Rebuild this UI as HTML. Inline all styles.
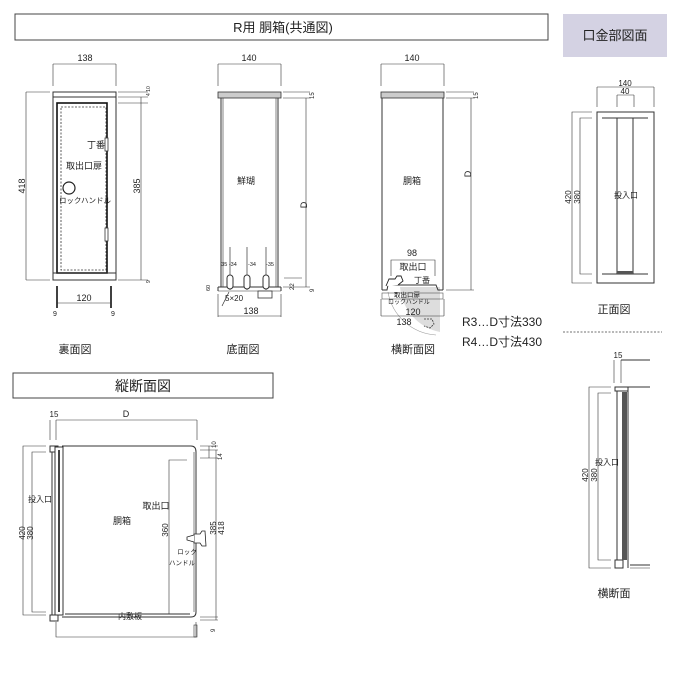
<!DOCTYPE html>
<html><head><meta charset="utf-8">
<style>
html,body{margin:0;padding:0;background:#fff;}
svg{display:block;}
text{font-family:"Liberation Sans","Noto Sans CJK JP",sans-serif;fill:#222;}
.l{stroke:#333;stroke-width:1;fill:none;}
.t{stroke:#333;stroke-width:0.6;fill:none;}
.k{stroke:#111;stroke-width:1.6;fill:none;}
</style></head><body>
<svg width="700" height="700" viewBox="0 0 700 700" xmlns="http://www.w3.org/2000/svg">
<!-- headers -->
<rect x="15" y="14" width="533" height="26" fill="#fff" stroke="#444" stroke-width="1"/>
<text x="283" y="32" font-size="13" text-anchor="middle">R用 胴箱(共通図)</text>
<rect x="563" y="14" width="104" height="43" fill="#d4d2e3"/>
<text x="615" y="40" font-size="13" text-anchor="middle">口金部図面</text>

<!-- View1 裏面図 -->
<g>
<line class="t" x1="53" y1="64" x2="116" y2="64"/><line class="t" x1="53" y1="64" x2="53" y2="86"/><line class="t" x1="116" y1="64" x2="116" y2="86"/>
<text x="85" y="61" font-size="9" text-anchor="middle">138</text>
<rect class="l" x="53" y="92" width="63" height="188"/>
<line class="l" x1="53" y1="97" x2="116" y2="97"/>
<rect class="k" x="57" y="103" width="50" height="170"/>
<rect x="61" y="107" width="45" height="163" fill="none" stroke="#333" stroke-width="0.8" stroke-dasharray="2,1.5"/>
<line class="l" x1="53" y1="273" x2="116" y2="273"/>
<rect x="105" y="138" width="3" height="13" fill="#fff" stroke="#333" stroke-width="0.8"/>
<rect x="105" y="228" width="3" height="13" fill="#fff" stroke="#333" stroke-width="0.8"/>
<circle cx="69" cy="188" r="6" fill="#fff" stroke="#222" stroke-width="1.2"/>
<text x="96" y="148" font-size="9" text-anchor="middle">丁番</text>
<text x="84" y="169" font-size="9" text-anchor="middle">取出口扉</text>
<text x="85" y="203" font-size="7.5" text-anchor="middle">ロックハンドル</text>
<line class="t" x1="26" y1="92" x2="26" y2="280"/><line class="t" x1="26" y1="92" x2="50" y2="92"/><line class="t" x1="26" y1="280" x2="50" y2="280"/>
<text x="22" y="186" font-size="9" text-anchor="middle" transform="rotate(-90 22 186)" dy="3">418</text>
<line class="t" x1="118" y1="92" x2="148" y2="92"/><line class="t" x1="118" y1="97" x2="148" y2="97"/><line class="t" x1="118" y1="103" x2="148" y2="103"/><line class="t" x1="118" y1="280" x2="148" y2="280"/>
<line class="t" x1="141" y1="97" x2="141" y2="280"/>
<text x="137" y="186" font-size="9" text-anchor="middle" transform="rotate(-90 137 186)" dy="3">385</text>
<text x="150" y="96" font-size="5" transform="rotate(-90 150 96)">4 10</text>
<text x="150" y="283" font-size="5" transform="rotate(-90 150 283)">9</text>
<line class="k" x1="57" y1="286" x2="57" y2="308"/><line class="k" x1="111" y1="286" x2="111" y2="308"/>
<line class="t" x1="57" y1="303" x2="111" y2="303"/>
<text x="84" y="301" font-size="9" text-anchor="middle">120</text>
<text x="55" y="316" font-size="7" text-anchor="middle">9</text><text x="113" y="316" font-size="7" text-anchor="middle">9</text>
<text x="75" y="353" font-size="11" text-anchor="middle">裏面図</text>
</g>

<!-- View2 底面図 -->
<g>
<line class="t" x1="218" y1="64" x2="281" y2="64"/><line class="t" x1="218" y1="64" x2="218" y2="86"/><line class="t" x1="281" y1="64" x2="281" y2="86"/>
<text x="249" y="61" font-size="9" text-anchor="middle">140</text>
<rect x="218" y="92" width="63" height="6" fill="#ccc" stroke="#333" stroke-width="0.8"/>
<line class="l" x1="221" y1="98" x2="221" y2="287"/><line class="l" x1="278" y1="98" x2="278" y2="287"/>
<line class="t" x1="223" y1="98" x2="223" y2="287"/><line class="t" x1="276" y1="98" x2="276" y2="287"/>
<line class="l" x1="218" y1="287" x2="281" y2="287"/><line class="l" x1="218" y1="287" x2="218" y2="291"/><line class="l" x1="281" y1="287" x2="281" y2="291"/><line class="t" x1="218" y1="291" x2="281" y2="291"/>
<rect x="258" y="291" width="14" height="7" fill="#fff" stroke="#333" stroke-width="0.8"/>
<text x="246" y="184" font-size="9" text-anchor="middle">鮮瑚</text>
<g stroke="#333" stroke-width="0.7" fill="none">
<line x1="230" y1="247" x2="230" y2="290"/><line x1="247" y1="247" x2="247" y2="290"/><line x1="266" y1="247" x2="266" y2="290"/>
<rect x="227" y="275" width="6" height="14" rx="3" fill="#fff" stroke-width="1"/>
<rect x="244" y="275" width="6" height="14" rx="3" fill="#fff" stroke-width="1"/>
<rect x="263" y="275" width="6" height="14" rx="3" fill="#fff" stroke-width="1"/>
<line x1="229" y1="292" x2="222" y2="306"/>
</g>
<text x="229" y="266" font-size="5.5" text-anchor="middle">35 -34</text>
<text x="252" y="266" font-size="5.5" text-anchor="middle">-34</text>
<text x="270" y="266" font-size="5.5" text-anchor="middle">-35</text>
<text x="225" y="301" font-size="8">5×20</text>
<text x="210" y="291" font-size="5.5" transform="rotate(-90 210 291)">60</text>
<line class="t" x1="284" y1="278" x2="302" y2="278"/>
<text x="294" y="290" font-size="6" transform="rotate(-90 294 290)">22</text>
<line class="t" x1="283" y1="92" x2="310" y2="92"/><line class="t" x1="283" y1="98" x2="310" y2="98"/><line class="t" x1="283" y1="287" x2="310" y2="287"/>
<line class="t" x1="306" y1="98" x2="306" y2="287"/>
<text x="304" y="205" font-size="9" text-anchor="middle" transform="rotate(-90 304 205)" dy="3">D</text>
<text x="314" y="99" font-size="6" transform="rotate(-90 314 99)">15</text>
<text x="314" y="292" font-size="6" transform="rotate(-90 314 292)">9</text>
<line class="t" x1="218" y1="294" x2="218" y2="317"/><line class="t" x1="281" y1="294" x2="281" y2="317"/><line class="t" x1="218" y1="316" x2="281" y2="316"/>
<text x="251" y="314" font-size="9" text-anchor="middle">138</text>
<text x="243" y="353" font-size="11" text-anchor="middle">底面図</text>
</g>

<!-- View3 横断面図 -->
<g>
<line class="t" x1="381" y1="64" x2="444" y2="64"/><line class="t" x1="381" y1="64" x2="381" y2="86"/><line class="t" x1="444" y1="64" x2="444" y2="86"/>
<text x="412" y="61" font-size="9" text-anchor="middle">140</text>
<path d="M400 287 A50 50 0 0 0 440 332 L440 287 Z" fill="#ddd"/>
<path d="M388 292 A52 52 0 0 0 436 335" fill="none" stroke="#999" stroke-width="0.6"/>
<rect x="381" y="92" width="63" height="6" fill="#ccc" stroke="#333" stroke-width="0.8"/>
<line class="l" x1="382" y1="98" x2="382" y2="290"/><line class="l" x1="443" y1="98" x2="443" y2="290"/>
<path class="l" d="M382 290 L387 290 L388 285 L436 285 L438 290 L443 290"/>
<rect x="382" y="293" width="61" height="6" fill="none" stroke="#555" stroke-width="0.6"/>
<line class="t" x1="381" y1="299" x2="381" y2="316"/><line class="t" x1="444" y1="299" x2="444" y2="316"/><line class="t" x1="381" y1="316" x2="444" y2="316"/>
<text x="412" y="256" font-size="9" text-anchor="middle">98</text>
<path class="t" d="M391 276 L391 260 L435 260 L435 276"/>
<text x="413" y="270" font-size="9" text-anchor="middle">取出口</text>
<text x="422" y="283" font-size="8" text-anchor="middle">丁番</text>
<path d="M386 286 L389 279 L395 279 L397 276 L401 276 L403 281 L398 285" fill="#fff" stroke="#222" stroke-width="0.9"/>
<text x="394" y="297" font-size="6.5">取出口扉</text>
<text x="388" y="304" font-size="6">ロックハンドル</text>
<text x="413" y="315" font-size="9" text-anchor="middle">120</text>
<text x="404" y="325" font-size="9" text-anchor="middle">138</text>
<path d="M424 319 L432 319 L434 324 L430 328 L424 326" fill="none" stroke="#333" stroke-width="0.8" stroke-dasharray="2,1"/>
<line class="t" x1="446" y1="92" x2="474" y2="92"/><line class="t" x1="446" y1="98" x2="474" y2="98"/><line class="t" x1="446" y1="290" x2="474" y2="290"/>
<line class="t" x1="471" y1="98" x2="471" y2="290"/>
<text x="468" y="174" font-size="9" text-anchor="middle" transform="rotate(-90 468 174)" dy="3">D</text>
<text x="478" y="99" font-size="6" transform="rotate(-90 478 99)">15</text>
<text x="412" y="184" font-size="9" text-anchor="middle">胴箱</text>
<text x="462" y="326" font-size="12">R3…D寸法330</text>
<text x="462" y="346" font-size="12">R4…D寸法430</text>
<text x="413" y="353" font-size="11" text-anchor="middle">横断面図</text>
</g>

<!-- 正面図 -->
<g>
<line class="t" x1="597" y1="87" x2="654" y2="87"/><line class="t" x1="597" y1="87" x2="597" y2="107"/><line class="t" x1="654" y1="87" x2="654" y2="107"/>
<line class="t" x1="617" y1="95" x2="634" y2="95"/><line class="t" x1="617" y1="95" x2="617" y2="107"/><line class="t" x1="634" y1="95" x2="634" y2="107"/>
<text x="625" y="86" font-size="8" text-anchor="middle">140</text>
<text x="625" y="94" font-size="8" text-anchor="middle">40</text>
<rect class="l" x="597" y="112" width="57" height="171"/>
<line class="l" x1="602" y1="118" x2="648" y2="118"/><line class="l" x1="602" y1="274" x2="648" y2="274"/>
<line class="l" x1="617" y1="118" x2="617" y2="274"/><line class="l" x1="633" y1="118" x2="633" y2="274"/>
<rect x="617" y="271" width="16" height="3" fill="#555"/>
<path class="t" d="M592 112 L572 112 L572 283 L592 283"/>
<path class="t" d="M592 118 L580 118 L580 274 L592 274"/>
<text x="568" y="197" font-size="8" text-anchor="middle" transform="rotate(-90 568 197)" dy="3">420</text>
<text x="577" y="197" font-size="8" text-anchor="middle" transform="rotate(-90 577 197)" dy="3">380</text>
<text x="626" y="198" font-size="8" text-anchor="middle">投入口</text>
<text x="614" y="313" font-size="11" text-anchor="middle">正面図</text>
<line x1="563" y1="332" x2="662" y2="332" stroke="#444" stroke-width="0.8" stroke-dasharray="2,1.5"/>
</g>

<!-- 縦断面図 -->
<g>
<rect x="13" y="373" width="260" height="25" fill="#fff" stroke="#444" stroke-width="1"/>
<text x="143" y="391" font-size="14" text-anchor="middle">縦断面図</text>
<text x="54" y="417" font-size="8" text-anchor="middle">15</text>
<text x="126" y="417" font-size="9" text-anchor="middle">D</text>
<line class="t" x1="50" y1="420" x2="50" y2="440"/><line class="t" x1="56" y1="420" x2="56" y2="440"/>
<line class="t" x1="56" y1="420" x2="197" y2="420"/><line class="t" x1="197" y1="420" x2="197" y2="440"/>
<rect class="l" x="50" y="446" width="8" height="6"/>
<rect class="l" x="50" y="615" width="8" height="6"/>
<line class="l" x1="52" y1="452" x2="52" y2="615"/>
<rect x="55" y="447" width="8" height="168" fill="#fff" stroke="#333" stroke-width="1"/>
<line x1="59" y1="450" x2="59" y2="612" stroke="#444" stroke-width="2"/>
<path class="l" d="M62 446 L191 446 Q196 446 196 452 L196 612 Q196 617 191 617 L62 617"/>
<line class="l" x1="65" y1="614" x2="190" y2="614"/>
<line class="t" x1="194" y1="452" x2="194" y2="612"/>
<path class="t" d="M187 460 L169 460 L169 614 L187 614"/>
<path d="M194 534 L200 534 L202 531 L205 531 L206 546 L202 546 L200 543 L194 543 Z" fill="#fff" stroke="#222" stroke-width="0.8"/>
<path d="M194 535 L187 537 L187 540 L194 542" fill="#fff" stroke="#222" stroke-width="0.8"/>
<text x="187" y="554" font-size="6.5" text-anchor="middle">ロック</text>
<text x="182" y="565" font-size="6.5" text-anchor="middle">ハンドル</text>
<text x="156" y="509" font-size="9" text-anchor="middle">取出口</text>
<text x="122" y="524" font-size="9" text-anchor="middle">胴箱</text>
<text x="165" y="530" font-size="8" text-anchor="middle" transform="rotate(-90 165 530)" dy="3">360</text>
<text x="130" y="619" font-size="8" text-anchor="middle">内敷板</text>
<path class="t" d="M46 446 L23 446 L23 615 L46 615"/>
<path class="t" d="M46 452 L32 452 L32 612 L46 612"/>
<text x="22" y="533" font-size="8" text-anchor="middle" transform="rotate(-90 22 533)" dy="3">420</text>
<text x="30" y="533" font-size="8" text-anchor="middle" transform="rotate(-90 30 533)" dy="3">380</text>
<text x="40" y="502" font-size="8" text-anchor="middle">投入口</text>
<line class="t" x1="200" y1="446" x2="218" y2="446"/><line class="t" x1="200" y1="450" x2="218" y2="450"/><line class="t" x1="200" y1="458" x2="218" y2="458"/><line class="t" x1="200" y1="617" x2="218" y2="617"/><line class="t" x1="200" y1="620" x2="218" y2="620"/>
<line class="t" x1="209" y1="446" x2="209" y2="458"/><line class="t" x1="216" y1="450" x2="216" y2="620"/>
<text x="216" y="448" font-size="6" transform="rotate(-90 216 448)">10</text>
<text x="222" y="460" font-size="6" transform="rotate(-90 222 460)">14</text>
<text x="213" y="528" font-size="8" text-anchor="middle" transform="rotate(-90 213 528)" dy="3">385</text>
<text x="221" y="528" font-size="8" text-anchor="middle" transform="rotate(-90 221 528)" dy="3">418</text>
<text x="215" y="632" font-size="6" transform="rotate(-90 215 632)">9</text>
<path class="t" d="M56 622 L56 637 L196 637 L196 622"/>
<rect x="194" y="625" width="3" height="12" fill="none" stroke="#333" stroke-width="0.6"/>
</g>

<!-- 横断面 -->
<g>
<text x="618" y="358" font-size="8" text-anchor="middle">15</text>
<line class="t" x1="614" y1="360" x2="614" y2="383"/><line class="t" x1="621" y1="360" x2="621" y2="383"/>
<line class="l" x1="621" y1="360" x2="650" y2="360"/>
<line class="l" x1="621" y1="387" x2="650" y2="387"/>
<rect class="l" x="615" y="387" width="13" height="4"/>
<rect class="l" x="615" y="560" width="8" height="8"/>
<line class="l" x1="617" y1="391" x2="617" y2="560"/>
<rect x="622" y="392" width="5" height="168" fill="#555"/>
<line class="l" x1="628" y1="387" x2="628" y2="568"/>
<line class="l" x1="630" y1="565" x2="650" y2="565"/>
<line class="t" x1="630" y1="568" x2="650" y2="568"/>
<path class="t" d="M611 387 L589 387 L589 568 L611 568"/>
<path class="t" d="M611 393 L598 393 L598 560 L611 560"/>
<text x="585" y="475" font-size="8" text-anchor="middle" transform="rotate(-90 585 475)" dy="3">420</text>
<text x="594" y="475" font-size="8" text-anchor="middle" transform="rotate(-90 594 475)" dy="3">380</text>
<text x="607" y="465" font-size="8" text-anchor="middle">投入口</text>
<text x="614" y="597" font-size="11" text-anchor="middle">横断面</text>
</g>
</svg>
</body></html>
